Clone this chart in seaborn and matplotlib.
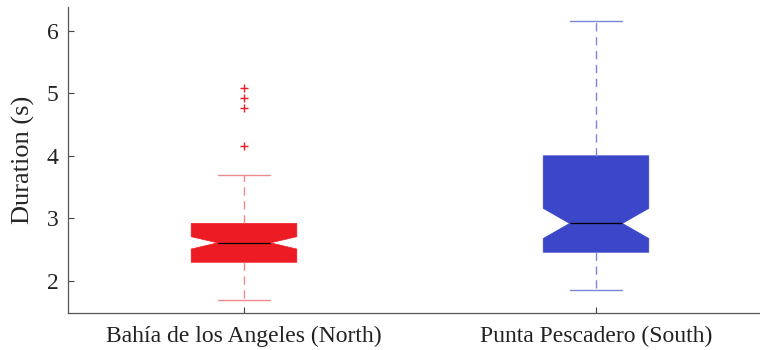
import numpy as np
import pandas as pd
import matplotlib
matplotlib.use("Agg")
import matplotlib.pyplot as plt
import seaborn as sns

# Box summaries (seconds)
sites = ["Bahía de los Angeles (North)", "Punta Pescadero (South)"]
whisker_low = [1.69, 1.85]
q1 = [2.30, 2.46]
median = [2.61, 2.92]
q3 = [2.92, 4.00]
whisker_high = [3.69, 6.16]
outliers = [[4.15, 4.76, 4.93, 5.08], []]
n_calls = [97, 101]   # sample size, sets the notch width

fill_colors = ["#ED1C24", "#3B47C8"]
line_colors = ["#EE8A8A", "#7C84DC"]


def site_sample(lo, a, m, b, hi, out, n):
    # rebuild a sample that has exactly these quartiles / whiskers / fliers
    i1 = int(round(3 / 8 * (n - 1)))
    i2 = int(round(5 / 8 * (n - 1)))
    n_top = n - 2 - len(out) - i2
    return [lo] + [a] * i1 + [m] * (i2 - i1) + [b] * n_top + [hi] + list(out)


rows = []
for k, site in enumerate(sites):
    vals = site_sample(whisker_low[k], q1[k], median[k], q3[k],
                       whisker_high[k], outliers[k], n_calls[k])
    rows += [(site, v) for v in vals]
df = pd.DataFrame(rows, columns=["site", "duration"])

sns.set_theme(style="ticks")
plt.rcParams["font.family"] = ["Liberation Serif", "DejaVu Serif"]

fig = plt.figure(figsize=(7.6, 3.5), dpi=100)
ax = fig.add_axes([0.0895, 0.1057, 0.9263, 0.8733])

for k, site in enumerate(sites):
    sns.boxplot(
        data=df[df["site"] == site], x="site", y="duration", order=sites,
        color=fill_colors[k], saturation=1, width=0.3, notch=True, whis=1.5,
        linecolor=line_colors[k], linewidth=1.0, ax=ax,
        boxprops=dict(edgecolor=fill_colors[k], linewidth=0.5),
        medianprops=dict(color="black", linewidth=0.9),
        whiskerprops=dict(linestyle=(0, (6, 4))),
        flierprops=dict(marker="+", markersize=6, markeredgecolor=fill_colors[k],
                        markeredgewidth=1.0),
    )

ax.set_xlim(-0.5, 1.5)
ax.set_ylim(1.49, 6.37)
ax.set_yticks([2, 3, 4, 5, 6])
ax.set_xlabel("")
ax.set_ylabel("Duration (s)", fontsize=19, labelpad=8)
ax.tick_params(axis="both", direction="in", length=4, width=0.8,
               color="#444444", labelsize=17, labelcolor="#222222", pad=7)
ax.tick_params(axis="x", pad=9)
for side in ["left", "bottom"]:
    ax.spines[side].set_color("#555555")
    ax.spines[side].set_linewidth(0.9)
sns.despine(ax=ax)

fig.savefig("out.png", dpi=100)
